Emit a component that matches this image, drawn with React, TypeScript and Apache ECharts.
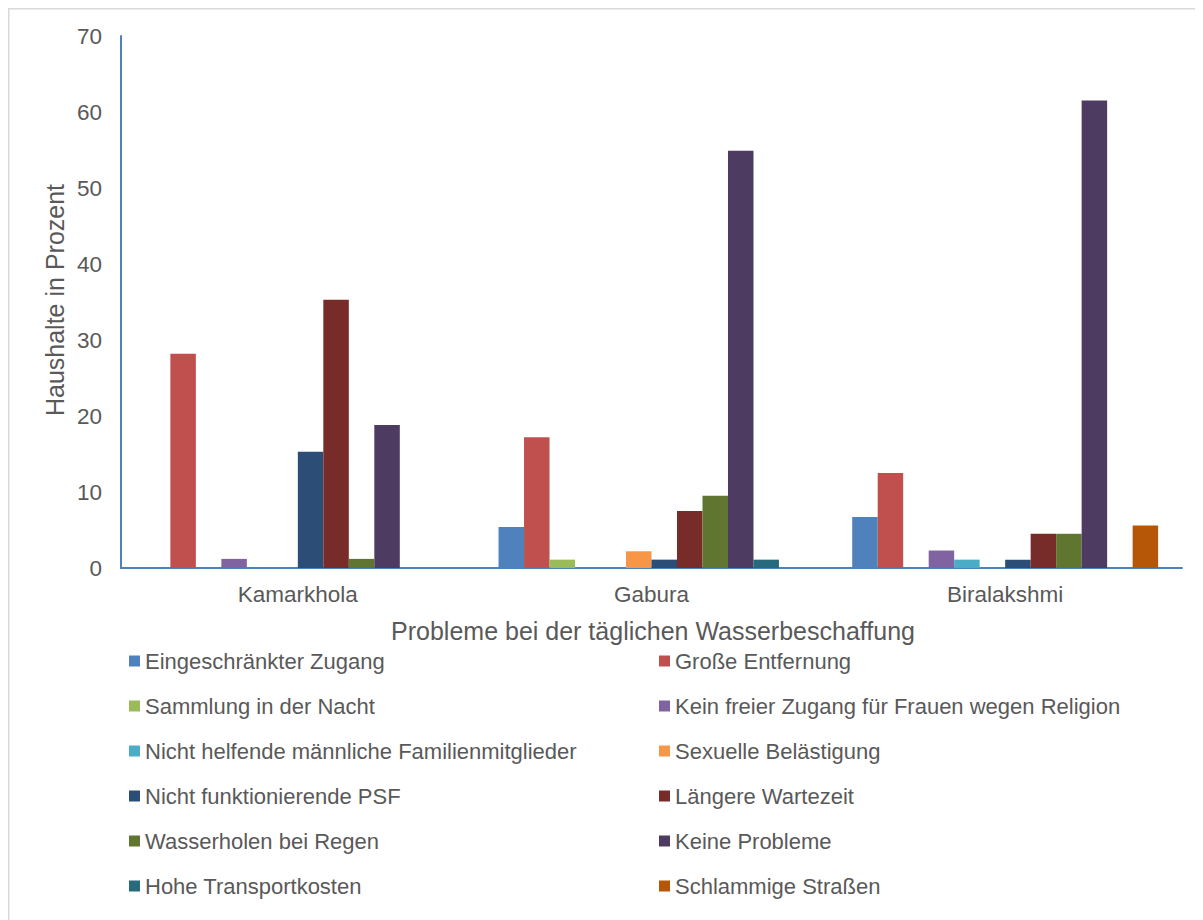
import React, { useEffect, useRef } from "react";
import * as echarts from "echarts";

const categories = ["Kamarkhola", "Gabura", "Biralakshmi"];

const seriesNames = [
  "Eingeschränkter Zugang",
  "Große Entfernung",
  "Sammlung in der Nacht",
  "Kein freier Zugang für Frauen wegen Religion",
  "Nicht helfende männliche Familienmitglieder",
  "Sexuelle Belästigung",
  "Nicht funktionierende PSF",
  "Längere Wartezeit",
  "Wasserholen bei Regen",
  "Keine Probleme",
  "Hohe Transportkosten",
  "Schlammige Straßen",
];

const seriesColors = [
  "#4F81BD",
  "#C0504D",
  "#9BBB59",
  "#8064A2",
  "#4BACC6",
  "#F79646",
  "#2C4D75",
  "#772C2A",
  "#5F7530",
  "#4D3B62",
  "#276A7C",
  "#B65708",
];

// values per series: [Kamarkhola, Gabura, Biralakshmi]
const eingeschraenkterZugang = [0, 5.4, 6.7];
const grosseEntfernung = [28.2, 17.2, 12.5];
const sammlungNacht = [0, 1.1, 0];
const keinFreierZugang = [1.2, 0, 2.3];
const nichtHelfende = [0, 0, 1.1];
const sexuelleBelaestigung = [0, 2.2, 0];
const nichtFunktionierendePSF = [15.3, 1.1, 1.1];
const laengereWartezeit = [35.3, 7.5, 4.5];
const wasserholenRegen = [1.2, 9.5, 4.5];
const keineProbleme = [18.8, 54.9, 61.5];
const hoheTransportkosten = [0, 1.1, 0];
const schlammigeStrassen = [0, 0, 5.6];

const seriesValues = [
  eingeschraenkterZugang,
  grosseEntfernung,
  sammlungNacht,
  keinFreierZugang,
  nichtHelfende,
  sexuelleBelaestigung,
  nichtFunktionierendePSF,
  laengereWartezeit,
  wasserholenRegen,
  keineProbleme,
  hoheTransportkosten,
  schlammigeStrassen,
];

const yTicks = { min: 0, max: 70, interval: 10 };
const yTitle = "Haushalte in Prozent";
const xTitle = "Probleme bei der täglichen Wasserbeschaffung";

const FONT = "'Liberation Sans', Arial, sans-serif";
const TEXT = "#595959";
const AXIS = "#4F81BD";

export default function App() {
  const ref = useRef<HTMLDivElement>(null);

  useEffect(() => {
    if (!ref.current) return;
    const chart = echarts.init(ref.current, undefined, { renderer: "svg" });

    const legendText = { color: TEXT, fontSize: 22, fontFamily: FONT, lineHeight: 22 };
    const leftNames = seriesNames.filter((_, i) => i % 2 === 0);
    const rightNames = seriesNames.filter((_, i) => i % 2 === 1);

    chart.setOption({
      animation: false,
      backgroundColor: "#ffffff",
      textStyle: { fontFamily: FONT },
      graphic: [
        {
          type: "rect",
          z: -10,
          shape: { x: 0.5, y: 0.5, width: 1400, height: 1100 },
          style: { fill: "none", stroke: "#d9d9d9", lineWidth: 2 },
        },
        {
          type: "text",
          x: 47,
          y: 292,
          rotation: Math.PI / 2,
          style: {
            text: yTitle,
            fill: TEXT,
            font: `25px ${FONT}`,
            textAlign: "center",
            textVerticalAlign: "middle",
          },
        },
        {
          type: "text",
          x: 645,
          y: 623,
          style: {
            text: xTitle,
            fill: TEXT,
            font: `25px ${FONT}`,
            textAlign: "center",
            textVerticalAlign: "middle",
          },
        },
      ],
      legend: [
        {
          orient: "vertical",
          left: 116,
          top: 637,
          padding: 5,
          itemWidth: 11,
          itemHeight: 11,
          itemGap: 23,
          icon: "rect",
          selectedMode: false,
          textStyle: legendText,
          data: leftNames,
        },
        {
          orient: "vertical",
          left: 646,
          top: 637,
          padding: 5,
          itemWidth: 11,
          itemHeight: 11,
          itemGap: 23,
          icon: "rect",
          selectedMode: false,
          textStyle: legendText,
          data: rightNames,
        },
      ],
      grid: {
        left: 113,
        right: 21,
        top: 28,
        bottom: 352,
        containLabel: false,
      },
      xAxis: {
        type: "category",
        data: categories,
        axisLine: { show: true, lineStyle: { color: AXIS, width: 2 } },
        axisTick: { show: false },
        axisLabel: { color: TEXT, fontSize: 22.5, fontFamily: FONT, margin: 15 },
        splitLine: { show: false },
      },
      yAxis: {
        type: "value",
        min: yTicks.min,
        max: yTicks.max,
        interval: yTicks.interval,
        axisLine: { show: true, lineStyle: { color: AXIS, width: 2 } },
        axisTick: { show: false },
        axisLabel: { color: TEXT, fontSize: 22.5, fontFamily: FONT, margin: 19 },
        splitLine: { show: false },
      },
      series: seriesNames.map((name, i) => ({
        name,
        type: "bar",
        data: seriesValues[i],
        barGap: "0%",
        barCategoryGap: "13.5%",
        itemStyle: { color: seriesColors[i] },
      })),
    });

    return () => chart.dispose();
  }, []);

  return <div ref={ref} style={{ width: 1195, height: 912 }} />;
}
